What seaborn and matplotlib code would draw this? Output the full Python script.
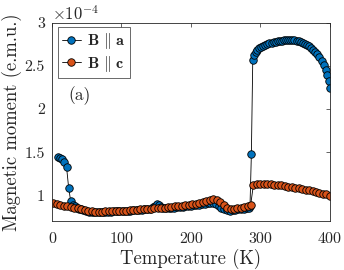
import numpy as np
import pandas as pd
import matplotlib
matplotlib.use("Agg")
import matplotlib.pyplot as plt
import seaborn as sns
from matplotlib.ticker import FuncFormatter, FixedLocator

# ---- data (magnetic moment in units of 1e-4 e.m.u.) ----
temp_a = [9, 12, 15, 18, 21, 24, 27, 30, 33, 36, 39, 42, 45,
          49, 53, 57, 61, 65, 69, 73, 77, 81, 85, 89, 93, 97, 101, 105, 109, 113,
          117, 121, 125, 129, 133, 137, 141, 145, 148, 151, 154, 157, 160, 164,
          168, 172, 176, 180, 184, 188, 192, 196, 200, 204, 208, 212, 216, 220,
          224, 228, 232, 236, 240, 244, 248, 252, 256, 260, 264, 268, 272, 276,
          280, 283, 285,
          287, 289, 291, 293, 295, 298, 301, 304, 307, 310, 313, 316, 319, 322,
          325, 328, 331, 334, 337, 340, 343, 346, 349, 352, 355, 358, 361, 364,
          367, 370, 373, 376, 379, 382, 385, 388, 391, 394, 396, 398, 400]
moment_a = [1.44, 1.435, 1.42, 1.39, 1.33, 1.09, 0.93, 0.89, 0.87, 0.855, 0.845, 0.835, 0.825,
            0.815, 0.81, 0.808, 0.806, 0.806, 0.806, 0.808, 0.808, 0.81, 0.81, 0.812, 0.812,
            0.815, 0.816, 0.818, 0.82, 0.822, 0.825, 0.827, 0.83, 0.833, 0.836, 0.84, 0.845,
            0.86, 0.88, 0.895, 0.885, 0.865, 0.848, 0.85, 0.852, 0.855, 0.858, 0.86, 0.864,
            0.868, 0.872, 0.876, 0.88, 0.884, 0.888, 0.892, 0.896, 0.90, 0.905, 0.91, 0.91,
            0.90, 0.88, 0.855, 0.835, 0.825, 0.822, 0.825, 0.83, 0.835, 0.84, 0.845,
            0.85, 0.855, 0.87,
            1.48, 2.57, 2.63, 2.66, 2.69, 2.71, 2.725, 2.735, 2.745, 2.755, 2.762, 2.768,
            2.774, 2.78, 2.785, 2.79, 2.794, 2.797, 2.80, 2.80, 2.80, 2.80, 2.797, 2.792,
            2.786, 2.778, 2.768, 2.757, 2.744, 2.73, 2.712, 2.69, 2.665, 2.635, 2.60,
            2.56, 2.51, 2.45, 2.40, 2.33, 2.25]

temp_c = [2, 7, 12, 17, 22, 27, 32, 37, 42, 47, 52, 57, 62, 67, 72, 77, 82, 87, 92, 97,
          102, 107, 112, 117, 122, 127, 132, 137, 142, 147, 152, 157, 162, 167, 172,
          177, 182, 187, 192, 197, 202, 207, 212, 217, 222, 227, 232, 237, 242, 247,
          252, 257, 262, 267, 272, 277, 282, 286,
          290, 295, 300, 305, 310, 315, 320, 325, 330, 335, 340, 345, 350, 355, 360,
          365, 370, 375, 380, 385, 390, 395, 400]
moment_c = [0.915, 0.90, 0.89, 0.88, 0.872, 0.865, 0.858, 0.85, 0.84, 0.828, 0.818, 0.813,
            0.81, 0.81, 0.81, 0.812, 0.812, 0.815, 0.815, 0.818, 0.82, 0.822, 0.825, 0.828,
            0.83, 0.835, 0.838, 0.842, 0.845, 0.848, 0.852, 0.855, 0.858, 0.862, 0.866,
            0.87, 0.875, 0.88, 0.885, 0.89, 0.895, 0.90, 0.91, 0.92, 0.935, 0.95, 0.955,
            0.945, 0.92, 0.885, 0.858, 0.845, 0.845, 0.85, 0.855, 0.86, 0.87, 0.89,
            1.125, 1.135, 1.135, 1.135, 1.13, 1.13, 1.125, 1.12, 1.115, 1.11, 1.10, 1.095,
            1.09, 1.08, 1.075, 1.065, 1.06, 1.05, 1.04, 1.03, 1.02, 1.01, 0.995]

labels = [r'$\mathbf{B}\ \Vert\ \mathbf{a}$', r'$\mathbf{B}\ \Vert\ \mathbf{c}$']
x_ticks = [0, 100, 200, 300, 400]
y_ticks = [1, 1.5, 2, 2.5, 3]

# ---- style ----
sns.set_style("white")
plt.rcParams['mathtext.fontset'] = 'cm'
plt.rcParams['font.family'] = ['cmr10', 'DejaVu Serif']
plt.rcParams['axes.formatter.use_mathtext'] = True

fig = plt.figure(figsize=(3.44, 2.70), dpi=100)
ax = fig.add_axes([0.151, 0.181, 0.808, 0.734])

blue = '#0072BD'
orange = '#D95319'

sns.lineplot(x=temp_a, y=moment_a, ax=ax, color='black', lw=0.6, marker='o',
             markersize=5.4, markerfacecolor=blue, markeredgecolor='black',
             markeredgewidth=0.6, label=labels[0], sort=False, estimator=None)
sns.lineplot(x=temp_c, y=moment_c, ax=ax, color='black', lw=0.6, marker='o',
             markersize=5.4, markerfacecolor=orange, markeredgecolor='black',
             markeredgewidth=0.6, label=labels[1], sort=False, estimator=None)

ax.set_xlim(0, 400)
ax.set_ylim(0.70, 3.0)
ax.xaxis.set_major_locator(FixedLocator(x_ticks))
ax.yaxis.set_major_locator(FixedLocator(y_ticks))
fmt = FuncFormatter(lambda v, p: '%g' % v)
ax.xaxis.set_major_formatter(fmt)
ax.yaxis.set_major_formatter(fmt)
ax.tick_params(direction='in', length=3, width=0.5, colors='#262626',
               labelsize=11.5, top=True, right=True)
ax.tick_params(axis='x', pad=8)
ax.tick_params(axis='y', pad=5)
ax.tick_params(labelcolor='#262626')
for s in ax.spines.values():
    s.set_linewidth(0.6)
    s.set_color('#262626')

ax.set_xlabel('Temperature (K)', fontsize=13.5, color='#262626', labelpad=2)
ax.set_ylabel('Magnetic moment (e.m.u.)', fontsize=13.5, color='#262626', labelpad=2)

ax.text(0.0, 1.0, r'$\times10^{-4}$', transform=ax.transAxes, fontsize=12,
        color='#262626', ha='left', va='bottom')
ax.text(40, 2.16, '(a)', fontsize=12.5, ha='center', va='center', color='#262626')

leg = ax.legend(loc='upper left', bbox_to_anchor=(0.01, 0.995), fontsize=11.5,
                frameon=True, fancybox=False, borderpad=0.25, handlelength=1.2,
                handletextpad=0.4, labelspacing=0.15, borderaxespad=0.2)
leg.get_frame().set_edgecolor('#262626')
leg.get_frame().set_linewidth(0.6)

fig.savefig('out.png', dpi=100)
